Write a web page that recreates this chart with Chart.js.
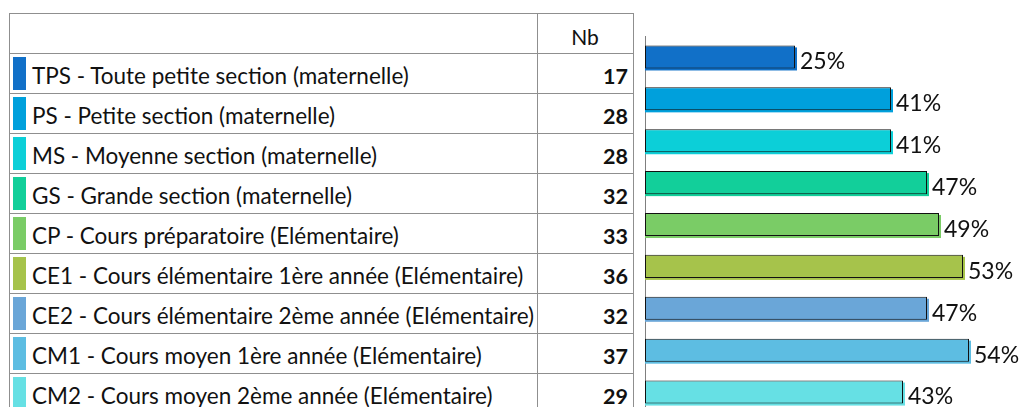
<!DOCTYPE html>
<html><head><meta charset="utf-8">
<script src="https://cdn.jsdelivr.net/npm/chart.js@4/dist/chart.umd.min.js"></script>
<style>
html,body{margin:0;padding:0;background:#fff;overflow:hidden;width:1023px;height:407px;}
body{position:relative;font-family:Lato,"Open Sans",sans-serif;color:#111;}
.hl{position:absolute;height:1px;background:#8f8f8f;}
.vl{position:absolute;width:1px;background:#8f8f8f;}
.lab{position:absolute;font-size:22.5px;white-space:nowrap;line-height:1;}
.num{position:absolute;font-size:21.5px;font-weight:bold;text-align:right;line-height:1;}
.sw{position:absolute;}
#wrap{position:absolute;left:633px;top:0;width:390px;height:420px;}
</style></head><body>
<div id="tbl"></div>
<div id="wrap"><canvas id="c"></canvas></div>
<script>
const categories = [
 "TPS - Toute petite section (maternelle)",
 "PS - Petite section (maternelle)",
 "MS - Moyenne section (maternelle)",
 "GS - Grande section (maternelle)",
 "CP - Cours préparatoire (Elémentaire)",
 "CE1 - Cours élémentaire 1ère année (Elémentaire)",
 "CE2 - Cours élémentaire 2ème année (Elémentaire)",
 "CM1 - Cours moyen 1ère année (Elémentaire)",
 "CM2 - Cours moyen 2ème année (Elémentaire)"
];
const counts = [17, 28, 28, 32, 33, 36, 32, 37, 29];
const percents = [25, 41, 41, 47, 49, 53, 47, 54, 43];
const colors = ["#1170c8","#00a0dc","#0ccfd8","#12cf9a","#7acc66","#a6c34b","#6aa6d8","#5dbde2","#66e0e4"];
const header = "Nb";

// table
const T = document.getElementById('tbl');
const L = 9, R = 633, TOP = 13, HB = 53, RH = 40, COL = 537;
function add(cls, style, txt){const d=document.createElement('div');d.className=cls;Object.assign(d.style,style);if(txt!==undefined)d.textContent=txt;T.appendChild(d);return d;}
const nRows = categories.length;
const bottom = HB + RH*nRows;
add('hl',{left:L+'px',top:TOP+'px',width:(R-L+1)+'px'});
add('hl',{left:L+'px',top:HB+'px',width:(R-L+1)+'px'});
for(let i=1;i<=nRows;i++) add('hl',{left:L+'px',top:(HB+RH*i)+'px',width:(R-L+1)+'px'});
add('vl',{left:L+'px',top:TOP+'px',height:(bottom-TOP)+'px'});
add('vl',{left:COL+'px',top:TOP+'px',height:(bottom-TOP)+'px'});
add('vl',{left:R+'px',top:TOP+'px',height:(bottom-TOP)+'px'});
add('lab',{left:COL+'px',width:(R-COL)+'px',textAlign:'center',top:'26px',fontSize:'21px'},header);
categories.forEach((c,i)=>{
  const y = HB + RH*i;
  add('sw',{left:'13px',top:(y+4)+'px',width:'13px',height:'33px',background:colors[i]});
  add('lab',{left:'32px',top:(y+12)+'px'},c);
  add('num',{left:COL+'px',width:(R-COL-5)+'px',top:(y+13)+'px'},String(counts[i]));
});

// chart
const shadowPlugin = {
  id:'shadow',
  beforeDatasetsDraw(chart){
    const ctx = chart.ctx;
    const meta = chart.getDatasetMeta(0);
    meta.data.forEach((el,i)=>{
      const p = el.getProps(['x','y','base','height'],true);
      ctx.save();
      ctx.fillStyle = colors[i];
      ctx.fillRect(p.base, p.y - p.height/2 + 2, p.x - p.base + 2, p.height);
      ctx.restore();
    });
  },
  afterDatasetsDraw(chart){
    const ctx = chart.ctx;
    const meta = chart.getDatasetMeta(0);
    ctx.save();
    ctx.font = '23px Lato, "Open Sans", sans-serif';
    ctx.fillStyle = '#111';
    ctx.textBaseline = 'middle';
    ctx.textAlign = 'left';
    meta.data.forEach((el,i)=>{
      const p = el.getProps(['x','y'],true);
      ctx.fillText(percents[i] + '%', p.x + 5, p.y + 5);
    });
    ctx.restore();
  }
};
new Chart(document.getElementById('c'), {
  type:'bar',
  data:{labels:categories, datasets:[{data:percents, backgroundColor:colors, borderColor:'#111', borderWidth:1, borderSkipped:false, categoryPercentage:1, barPercentage:0.55}]},
  options:{
    indexAxis:'y', responsive:true, maintainAspectRatio:false, animation:false,
    layout:{padding:{left:0,top:36,right:18,bottom:7}},
    plugins:{legend:{display:false}, tooltip:{enabled:false}},
    scales:{
      x:{display:false, min:0, max:60},
      y:{display:true, ticks:{display:false}, grid:{display:false, drawTicks:false}, border:{display:true,color:'#7f7f7f',width:1}, afterFit(s){s.width=12;}}
    }
  },
  plugins:[shadowPlugin]
});
</script>
</body></html>
